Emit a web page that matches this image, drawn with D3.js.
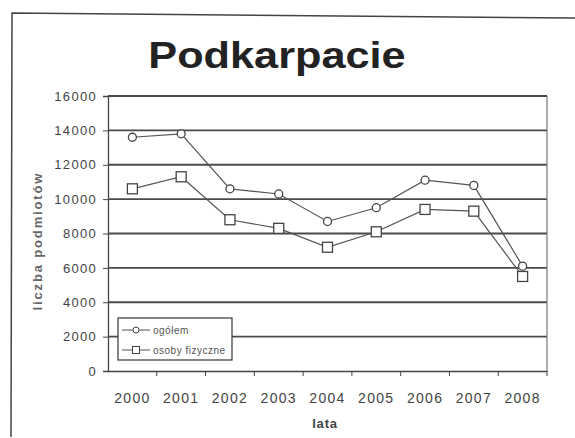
<!DOCTYPE html>
<html><head><meta charset="utf-8">
<script src="https://cdn.jsdelivr.net/npm/d3@7/dist/d3.min.js"></script>
<style>body{margin:0;background:#fff}svg{display:block}</style>
</head><body>
<svg id="c" width="575" height="438"></svg>
<script>
const years = ["2000","2001","2002","2003","2004","2005","2006","2007","2008"];
const ogolem = [13600,13800,10600,10300,8700,9500,11100,10800,6100];
const osobyFizyczne = [10600,11300,8800,8300,7200,8100,9400,9300,5500];
const yTicks = [0,2000,4000,6000,8000,10000,12000,14000,16000];
const seriesNames = ["ogółem","osoby fizyczne"];

const svg = d3.select("#c");
const L = 108, R = 547, T = 96, B = 371;
const x = d3.scaleBand().domain(years).range([L, R]).padding(0);
const y = d3.scaleLinear().domain([0,16000]).range([B, T]);
const font = "'Liberation Sans', Arial, sans-serif";

// outer frame
svg.append("path").attr("d","M11,437 L12,13 L575,18").attr("fill","none").attr("stroke","#444").attr("stroke-width",1.5);

// title
svg.append("text").attr("x",277).attr("y",68).attr("text-anchor","middle")
  .attr("font-family",font).attr("font-weight","bold").attr("font-size",37)
  .attr("fill","#222").attr("transform","translate(277,0) scale(1.17,1) translate(-277,0)")
  .text("Podkarpacie");

// gridlines
svg.append("g").selectAll("line").data(yTicks.filter(d=>d>0)).join("line")
  .attr("x1",L).attr("x2",R).attr("y1",d=>y(d)).attr("y2",d=>y(d))
  .attr("stroke","#4a4a4a").attr("stroke-width",1.8);

// plot border right
svg.append("line").attr("x1",R).attr("x2",R).attr("y1",T).attr("y2",B).attr("stroke","#777").attr("stroke-width",1.2);

// y axis
const ya = svg.append("g").attr("transform",`translate(${L},0)`)
  .call(d3.axisLeft(y).tickValues(yTicks).tickSize(5).tickPadding(6).tickFormat(d3.format("d")));
ya.select(".domain").attr("stroke","#444").attr("stroke-width",1.3);
ya.selectAll(".tick line").attr("stroke","#444");
ya.selectAll("text").attr("font-family",font).attr("font-size",13).attr("letter-spacing",1.3).attr("fill","#444");

// x axis
const xa = svg.append("g").attr("transform",`translate(0,${B})`)
  .call(d3.axisBottom(x).tickSize(0).tickPadding(22));
xa.select(".domain").attr("stroke","#444").attr("stroke-width",1.3);
xa.selectAll("text").attr("font-family",font).attr("font-size",14).attr("letter-spacing",1.3).attr("fill","#444");
// boundary ticks
svg.append("g").selectAll("line").data(years.slice(1).concat(["end"])).join("line")
  .attr("x1",d=>d==="end"?R:x(d)).attr("x2",d=>d==="end"?R:x(d))
  .attr("y1",B).attr("y2",B+5).attr("stroke","#444");

// axis titles
svg.append("text").attr("x",325).attr("y",428).attr("text-anchor","middle")
  .attr("font-family",font).attr("font-weight","bold").attr("font-size",13).attr("letter-spacing",0.8).attr("fill","#444").text("lata");
svg.append("text").attr("transform","translate(42,242) rotate(-90)").attr("text-anchor","middle")
  .attr("font-family",font).attr("font-weight","bold").attr("font-size",13)
  .attr("textLength",137).attr("lengthAdjust","spacing").attr("fill","#666").text("liczba podmiotów");

const cx = d => x(d) + x.bandwidth()/2;
const line = d3.line().x((d,i)=>cx(years[i])).y(d=>y(d));

// series lines
svg.append("path").datum(ogolem).attr("d",line).attr("fill","none").attr("stroke","#555").attr("stroke-width",1.2);
svg.append("path").datum(osobyFizyczne).attr("d",line).attr("fill","none").attr("stroke","#555").attr("stroke-width",1.2);

// markers
svg.append("g").selectAll("circle").data(ogolem).join("circle")
  .attr("cx",(d,i)=>cx(years[i])).attr("cy",d=>y(d)).attr("r",4)
  .attr("fill","#fff").attr("stroke","#444").attr("stroke-width",1.3);
svg.append("g").selectAll("rect").data(osobyFizyczne).join("rect")
  .attr("x",(d,i)=>cx(years[i])-5).attr("y",d=>y(d)-5).attr("width",10).attr("height",10)
  .attr("fill","#fff").attr("stroke","#444").attr("stroke-width",1.3);

// legend
const lg = svg.append("g");
lg.append("rect").attr("x",118).attr("y",318).attr("width",114).attr("height",42)
  .attr("fill","#fff").attr("stroke","#444").attr("stroke-width",1.3);
const ly = [330,350];
seriesNames.forEach((n,i)=>{
  lg.append("line").attr("x1",122).attr("x2",150).attr("y1",ly[i]).attr("y2",ly[i]).attr("stroke","#555");
  if(i===0) lg.append("circle").attr("cx",136).attr("cy",ly[i]).attr("r",3).attr("fill","#fff").attr("stroke","#444");
  else lg.append("rect").attr("x",132.5).attr("y",ly[i]-3.5).attr("width",7).attr("height",7).attr("fill","#fff").attr("stroke","#444");
  lg.append("text").attr("x",153).attr("y",ly[i]+3.5).attr("font-family",font).attr("font-size",10).attr("letter-spacing",0.5).attr("fill","#555").text(n);
});
</script>
</body></html>
